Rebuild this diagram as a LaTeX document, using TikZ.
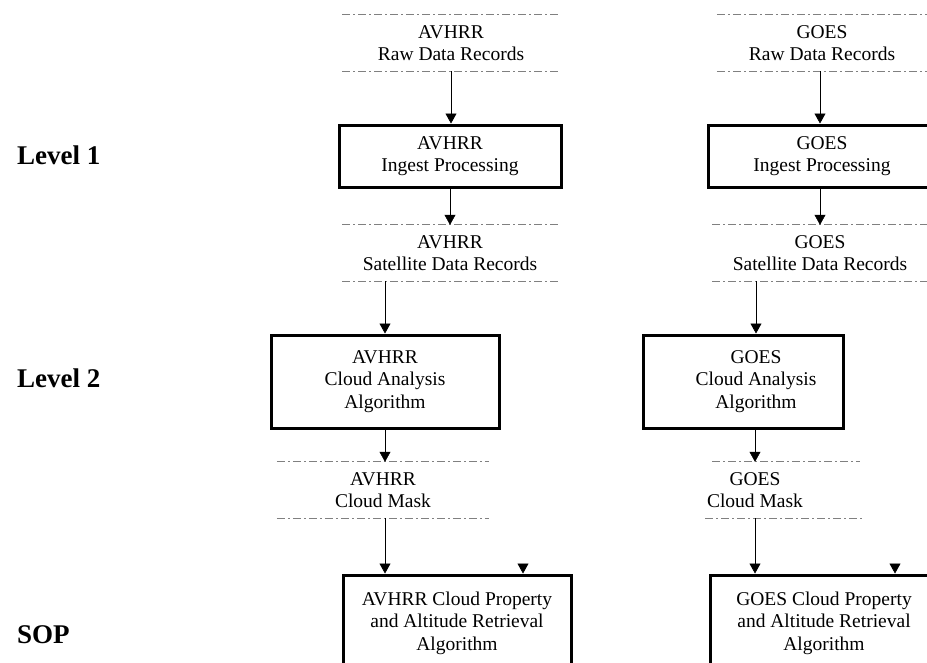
\documentclass[tikz,border=0pt]{standalone}
\usepackage{fontspec}
\setmainfont{Liberation Serif}
\usetikzlibrary{arrows.meta,calc}
\begin{document}
\begin{tikzpicture}[x=1pt,y=-1pt,
  txt/.style={font=\fontsize{19.5}{22.5}\selectfont, align=center, inner sep=0pt},
  store/.style={txt, minimum height=56pt},
  procbox/.style={txt, draw=black, line width=3pt, minimum width=#1, minimum height=62pt},
  storeline/.style={draw=black!50, line width=0.7pt, dash pattern=on 8pt off 3pt on 2pt off 3pt},
  arr/.style={draw=black, line width=0.6pt, -{Triangle[width=11pt,length=10pt]}},
  lvl/.style={font=\fontsize{27}{30}\selectfont\bfseries, anchor=west, inner sep=0pt}]
\clip (0,0) rectangle (927,662);
\fill[white] (0,0) rectangle (927,662);

% level labels
\node[lvl] (l1) at (17,155) {Level 1};
\node[lvl] (l2) at (17,378) {Level 2};
\node[lvl] (l3) at (17,635) {SOP};

% AVHRR column
\node[store, minimum width=217pt] (rawA) at (451,43) {AVHRR\\Raw Data Records};
\node[procbox=222pt] (ingA) at (450,156) {AVHRR\\Ingest Processing};
\node[store, minimum width=215pt] (satA) at (450,253) {AVHRR\\Satellite Data Records};
\node[procbox=228pt, minimum height=93pt] (anaA) at (385,381.5) {AVHRR\\Cloud Analysis\\Algorithm};
\node[store, minimum width=212pt] (maskA) at (383,490) {AVHRR\\Cloud Mask};
\node[procbox=228pt, minimum height=96pt] (sopA) at (457,623) {AVHRR Cloud Property\\and Altitude Retrieval\\Algorithm};

% GOES column
\node[store, minimum width=210pt] (rawG) at (822,43) {GOES\\Raw Data Records};
\node[procbox=228pt] (ingG) at (822,156) {GOES\\Ingest Processing};
\node[store, minimum width=215pt] (satG) at (820,253) {GOES\\Satellite Data Records};
\node[procbox=200pt, minimum height=93pt] (anaG) at (743,381.5) {};
\node[txt] (anaGt) at (756,381.5) {GOES\\Cloud Analysis\\Algorithm};
\node[store, minimum width=100pt] (maskG) at (755,490) {GOES\\Cloud Mask};
\node[procbox=228pt, minimum height=96pt] (sopG) at (824,623) {GOES Cloud Property\\and Altitude Retrieval\\Algorithm};

% store lines
\foreach \n in {rawA,satA,maskA,rawG,satG}{
  \path[storeline] (\n.north west) -- (\n.north east);
  \path[storeline] (\n.south west) -- (\n.south east);
}
\path[storeline] ([xshift=-43pt]maskG.north) -- ([xshift=105pt]maskG.north);
\path[storeline] ([xshift=-50pt]maskG.south) -- ([xshift=107pt]maskG.south);

% connectors
\draw[arr] (rawA.south) -- (rawA.south |- ingA.north);
\draw[arr] (ingA.south) -- (ingA.south |- satA.north);
\draw[arr] (anaA.north |- satA.south) -- (anaA.north);
\draw[arr] (anaA.south) -- (anaA.south |- maskA.north);
\draw[arr] (anaA.south |- maskA.south) -- (anaA.south |- sopA.north);
\coordinate (extA) at (523,564);
\draw[arr] (extA) -- (extA |- sopA.north);

\draw[arr] ([xshift=-2pt]rawG.south) -- ([xshift=-2pt]rawG.south |- ingG.north);
\draw[arr] ([xshift=-2pt]ingG.south) -- ([xshift=-2pt]ingG.south |- satG.north);
\draw[arr] (anaGt.north |- satG.south) -- (anaGt.north |- anaG.north);
\draw[arr] (maskG.north |- anaG.south) -- (maskG.north);
\draw[arr] (maskG.south) -- (maskG.south |- sopG.north);
\coordinate (extG) at (895,564);
\draw[arr] (extG) -- (extG |- sopG.north);
\end{tikzpicture}
\end{document}
